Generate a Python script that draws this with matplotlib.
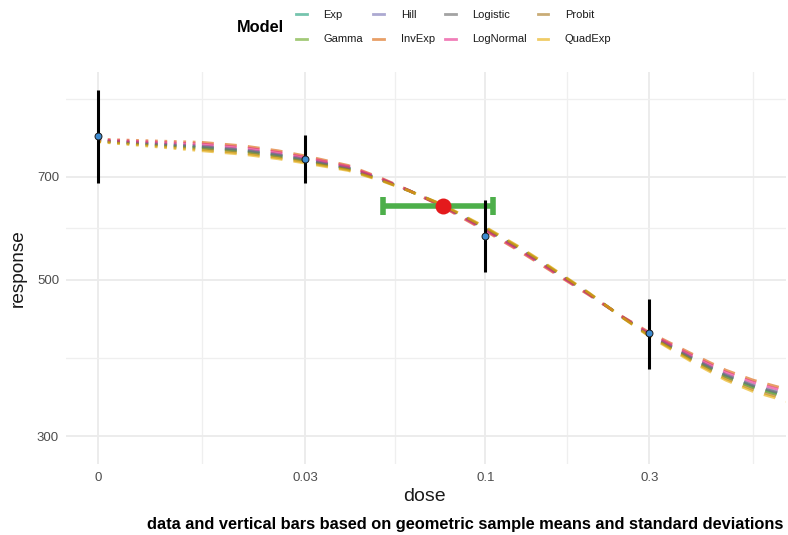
import numpy as np
import matplotlib
matplotlib.use("Agg")
import matplotlib.pyplot as plt
from matplotlib.lines import Line2D
from matplotlib.ticker import FixedLocator, FixedFormatter, NullFormatter

plt.rcParams['font.family'] = ['Liberation Sans', 'DejaVu Sans']

# ---------------- data ----------------
models = ["Exp", "Gamma", "Hill", "InvExp", "Logistic", "LogNormal", "Probit", "QuadExp"]
model_colors = ["#1B9E77", "#66A61E", "#7570B3", "#D95F02",
                "#666666", "#E7298A", "#A6761D", "#E6AB02"]

curve_dose = [0, 0.015, 0.02, 0.025, 0.03, 0.04, 0.05, 0.06, 0.075, 0.1,
              0.125, 0.15, 0.2, 0.25, 0.3, 0.4, 0.5, 0.6, 0.75]

curve_exp = [787.2, 770.5, 761.2, 750.1, 738.8, 719.0, 692.8, 668.8, 637.5, 590.9,
             554.3, 523.9, 477.7, 442.6, 417.5, 386.0, 364.9, 352.3, 341.5]
curve_gamma = [786.8, 768.8, 759.6, 748.6, 737.4, 718.1, 692.4, 668.7, 637.9, 591.5,
               554.8, 524.3, 478.0, 442.5, 417.0, 385.2, 364.0, 351.3, 340.5]
curve_hill = [788.4, 774.2, 764.9, 753.6, 741.8, 721.1, 693.8, 669.0, 636.8, 589.7,
              552.9, 522.7, 477.2, 442.8, 418.4, 387.8, 367.0, 354.6, 343.9]
curve_invexp = [791.2, 783.3, 773.9, 762.0, 749.3, 726.2, 696.3, 669.4, 634.9, 586.5,
                549.7, 519.9, 475.7, 443.4, 420.7, 392.1, 372.1, 360.2, 349.6]
curve_logistic = [787.9, 772.6, 763.3, 752.1, 740.5, 720.2, 693.4, 668.9, 637.1, 590.2,
                  553.5, 523.2, 477.4, 442.7, 418.0, 387.0, 366.1, 353.6, 342.9]
curve_lognormal = [789.9, 779.0, 769.7, 758.1, 745.8, 723.8, 695.1, 669.2, 635.8, 588.0,
                   551.2, 521.2, 476.4, 443.1, 419.6, 390.0, 369.7, 357.6, 346.9]
curve_probit = [785.6, 765.1, 755.9, 745.2, 734.4, 716.0, 691.4, 668.6, 638.7, 592.8,
                556.2, 525.5, 478.6, 442.2, 416.1, 383.5, 361.9, 349.0, 338.2]
curve_quadexp = [784.6, 761.9, 752.7, 742.2, 731.8, 714.2, 690.5, 668.4, 639.3, 593.9,
                 557.3, 526.5, 479.1, 442.0, 415.3, 381.9, 360.1, 347.0, 336.2]

model_curves = [curve_exp, curve_gamma, curve_hill, curve_invexp,
                curve_logistic, curve_lognormal, curve_probit, curve_quadexp]

obs_dose = [0, 0.03, 0.1, 0.3]
obs_mean = [799, 741, 577, 420]
obs_lower = [686, 686, 513, 373]
obs_upper = [929, 802, 649, 469]

bmd = 0.0752
bmd_response = 636
bmdl = 0.0505
bmdu = 0.1055

x_tick_values = [0, 0.03, 0.1, 0.3]
x_tick_labels = ["0", "0.03", "0.1", "0.3"]
y_tick_values = [300, 500, 700]
y_tick_labels = ["300", "500", "700"]

# dose 0 is drawn at this stand-in position on the log axis
zero_stand_in = 0.0075


def plot_pos(d):
    return [zero_stand_in if v == 0 else v for v in d]


# ---------------- figure ----------------
W, H = 788, 535
fig = plt.figure(figsize=(W / 100, H / 100), dpi=100)
L, R, T, B = 66, 786, 72, 464
ax = fig.add_axes([L / W, 1 - B / H, (R - L) / W, (B - T) / H])

ax.set_xscale('log')
ax.set_yscale('log')
ax.set_xlim(0.006041, 0.7483)
ax.set_ylim(273.8, 985.6)

for s in ax.spines.values():
    s.set_visible(False)

ax.xaxis.set_major_locator(FixedLocator(plot_pos(x_tick_values)))
ax.xaxis.set_major_formatter(FixedFormatter(x_tick_labels))
ax.xaxis.set_minor_locator(FixedLocator([0.015, 0.05477, 0.1732, 0.6]))
ax.xaxis.set_minor_formatter(NullFormatter())
ax.yaxis.set_major_locator(FixedLocator(y_tick_values))
ax.yaxis.set_major_formatter(FixedFormatter(y_tick_labels))
ax.yaxis.set_minor_locator(FixedLocator([387.3, 591.6, 903.7]))
ax.yaxis.set_minor_formatter(NullFormatter())

ax.tick_params(which='both', length=0)
ax.tick_params(axis='both', labelsize=9.5, labelcolor='#4D4D4D')
ax.tick_params(axis='x', pad=6)
ax.tick_params(axis='y', pad=5)
ax.grid(which='major', color='#EBEBEB', lw=1.3)
ax.grid(which='minor', color='#EFEFEF', lw=0.9)
ax.set_axisbelow(True)

# model curves
xc = plot_pos(curve_dose)
lw = 2.0
for name, col, yc in zip(models, model_colors, model_curves):
    ax.plot(xc[:2], yc[:2], color=col, lw=lw, alpha=0.6,
            ls=(0, (1.0, 2.4)), zorder=2)
    ax.plot(xc[1:], yc[1:], color=col, lw=lw, alpha=0.6,
            ls=(0, (4.3, 4.0)), zorder=2)

# BMD with confidence interval
ax.errorbar([bmd], [bmd_response],
            xerr=[[bmd - bmdl], [bmdu - bmd]], fmt='none',
            ecolor='#4DAF4A', elinewidth=4.0, capsize=6.6, capthick=4.0,
            zorder=3)

# observed data
xo = plot_pos(obs_dose)
ax.vlines(xo, obs_lower, obs_upper, color='black', lw=2.2, zorder=4)
ax.plot(xo, obs_mean, 'o', ms=5, mfc='#3D8BD1', mec='#1a1a1a', mew=0.7,
        zorder=5, ls='none')

ax.plot([bmd], [bmd_response], 'o', ms=11.5, color='#E41A1C', mec='none',
        zorder=6)

# axis titles
fig.text(424.5 / W, 1 - 496.7 / H, "dose", ha='center', va='center',
         fontsize=14, color='#1A1A1A')
fig.text(18 / W, 1 - 268 / H, "response", ha='center', va='center',
         rotation=90, fontsize=13.7, color='#1A1A1A')

# caption
fig.text(783 / W, 1 - 524 / H,
         "data and vertical bars based on geometric sample means and standard deviations",
         ha='right', va='center', fontsize=11.8, fontweight='bold', color='black')

# legend
handles = [Line2D([0], [0], color=c, lw=2.0, alpha=0.6) for c in model_colors]
fig.text(237 / W, 1 - 27.5 / H, "Model", ha='left', va='center',
         fontsize=11.8, fontweight='bold', color='black')
leg = fig.legend(handles, models, ncol=4, loc='upper left',
                 bbox_to_anchor=(296 / W, 1 - 10 / H),
                 frameon=False, fontsize=8.0, handlelength=0.95,
                 handletextpad=1.5, columnspacing=0.95, labelspacing=1.3,
                 borderpad=0, borderaxespad=0)
for t in leg.get_texts():
    t.set_color('#1A1A1A')

fig.savefig("out.png", dpi=100)
